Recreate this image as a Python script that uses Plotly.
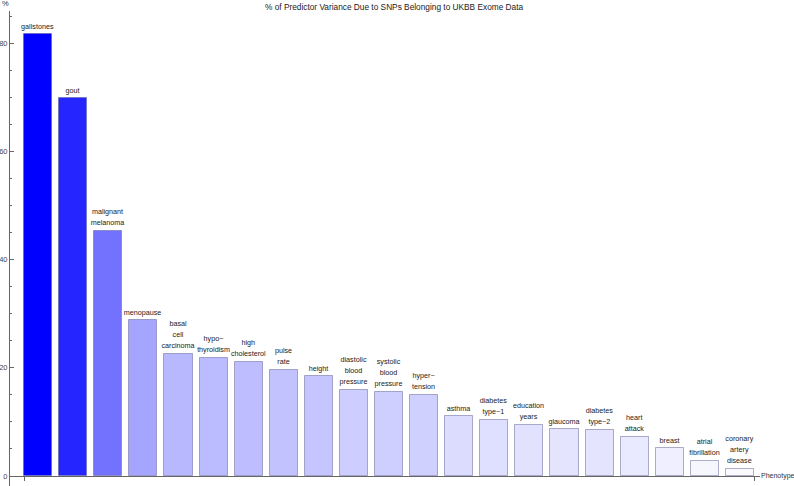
import plotly.graph_objects as go

phenotypes = ["gallstones", "gout", "malignant<br>melanoma", "menopause", "basal<br>cell<br>carcinoma",
              "hypo\u2212<br>thyroidism", "high<br>cholesterol", "pulse<br>rate", "height",
              "diastolic<br>blood<br>pressure", "systolic<br>blood<br>pressure", "hyper\u2212<br>tension",
              "asthma", "diabetes<br>type\u22121", "education<br>years", "glaucoma", "diabetes<br>type\u22122",
              "heart<br>attack", "breast", "atrial<br>fibrillation", "coronary<br>artery<br>disease"]
percent = [81.7, 69.9, 45.3, 28.8, 22.6, 21.8, 21.0, 19.6, 18.5, 15.9, 15.6, 15.0,
           11.1, 10.4, 9.4, 8.7, 8.5, 7.2, 5.2, 2.8, 1.3]
y_tick_vals = [0, 20, 40, 60, 80]

positions = list(range(1, len(phenotypes) + 1))
vmax = max(percent)
colors = []
for v in percent:
    w = round(255 * (1 - v / vmax))
    colors.append(f"rgb({w},{w},255)")

labels = [f'<span style="font-size:7.2px">{p}</span>' for p in phenotypes]

y_min, y_max = -1.85, 86.0

fig = go.Figure()
fig.add_trace(go.Bar(
    x=positions, y=percent, width=0.8,
    marker=dict(color=colors, line=dict(color="rgba(95,95,150,0.5)", width=1)),
    text=labels, textposition="outside", textangle=0, constraintext="none",
    cliponaxis=False,
    textfont=dict(family="Liberation Sans, Arial, sans-serif", size=8.7, color="#222"),
    hoverinfo="skip",
))

fig.update_layout(
    width=794, height=486,
    margin=dict(l=10, r=34, t=10.5, b=0, autoexpand=False),
    paper_bgcolor="white", plot_bgcolor="white",
    showlegend=False,
    bargap=0,
    font=dict(family="Liberation Sans, Arial, sans-serif", size=8, color="#333"),
    xaxis=dict(range=[0.2, 21.57], showgrid=False, zeroline=False,
               showline=True, linecolor="#666", linewidth=1,
               anchor="free", position=(0 - y_min) / (y_max - y_min),
               tickmode="array", tickvals=[0.6, 21.4], ticktext=["", ""],
               ticks="outside", ticklen=4, tickcolor="#666",
               automargin=False),
    yaxis=dict(range=[y_min, y_max], showgrid=False, zeroline=False,
               showline=True, linecolor="#666", linewidth=1,
               tickmode="array", tickvals=y_tick_vals,
               ticks="inside", ticklen=4, tickcolor="#666",
               tickfont=dict(size=7.5, color="#444"),
               minor=dict(dtick=5, ticks="inside", ticklen=2, tickcolor="#666"),
               automargin=False),
)

fig.add_annotation(text="% of Predictor Variance Due to SNPs Belonging to UKBB Exome Data",
                   xref="paper", x=(394 - 10) / 750, xanchor="center",
                   yref="paper", y=1, yanchor="middle", yshift=4.5,
                   showarrow=False, font=dict(size=8.3, color="#222"))
fig.add_annotation(text="%", xref="paper", x=0, xanchor="right", xshift=1,
                   yref="paper", y=1, yanchor="middle", yshift=7.5,
                   showarrow=False, font=dict(size=7.5, color="#333"))
fig.add_annotation(text="Phenotype", xref="paper", x=1, xanchor="left", xshift=-1,
                   yref="y", y=0, yanchor="middle",
                   showarrow=False, font=dict(size=7, color="#333"))

fig.write_html("out.html", config={"displayModeBar": False},
               post_script="document.body.style.margin='0';document.body.style.overflow='hidden';")
